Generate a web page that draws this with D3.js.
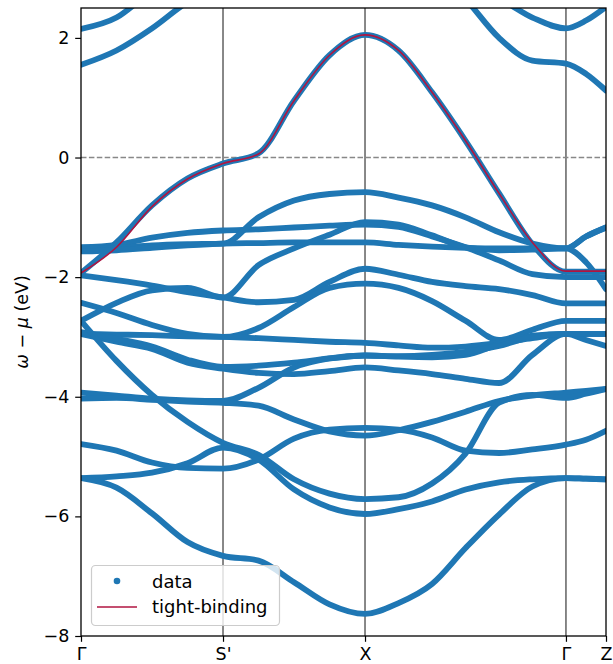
<!DOCTYPE html>
<html><head><meta charset="utf-8">
<script src="https://cdn.jsdelivr.net/npm/d3@7"></script>
<style>body{margin:0;background:#fff} text{font-family:"DejaVu Sans",sans-serif}</style>
</head><body><svg id="c" width="613" height="664"></svg>
<script>
// high-symmetry path
const kTicks = [0, 1, 2, 3.415, 3.697];
const kLabels = ["Γ", "S'", "X", "Γ", "Z"];
const kLines = [1, 2, 3.415];
// k sample positions of the read-off values
const kGrid = [0, 0.25, 0.5, 0.75, 1, 1.25, 1.5, 1.75, 2, 2.236, 2.472, 2.708, 2.944, 3.179, 3.415, 3.556, 3.697];
const eTicks = [2, 0, -2, -4, -6, -8];

// band energies (eV) read at kGrid
const band01 = [2.15, 2.34, 2.8, 3.2, 3.4, 3.5, 3.6, 3.6, 3.5, 3.3, 3.05, 2.8, 2.65, 2.34, 2.16, 2.29, 2.52];
const band02 = [1.55, 1.79, 2.16, 2.6, 2.9, 3.1, 3.2, 3.4, 3.6, 3.45, 3.2, 2.65, 2.0, 1.62, 1.57, 1.40, 1.12];
const band03 = [-1.93, -1.42, -0.80, -0.35, -0.10, 0.07, 0.95, 1.71, 2.05, 1.79, 1.09, 0.28, -0.6, -1.45, -1.91, -1.91, -1.91];
const band04 = [-1.5, -1.46, -1.34, -1.26, -1.22, -1.2, -1.17, -1.14, -1.12, -1.16, -1.32, -1.5, -1.72, -1.95, -2.0, -2.0, -2.0];
const band05 = [-1.53, -1.51, -1.47, -1.45, -1.44, -1.0, -0.72, -0.61, -0.58, -0.67, -0.8, -1.0, -1.25, -1.44, -1.52, -1.32, -1.17];
const band06 = [-1.57, -1.55, -1.51, -1.47, -1.44, -1.43, -1.42, -1.42, -1.42, -1.46, -1.49, -1.51, -1.52, -1.52, -1.52, -1.32, -1.17];
const band07 = [-2.73, -2.43, -2.22, -2.18, -2.34, -1.8, -1.52, -1.29, -1.08, -1.12, -1.3, -1.5, -1.55, -1.54, -1.52, -1.75, -2.2];
const band08 = [-1.97, -2.05, -2.14, -2.25, -2.34, -2.42, -2.38, -2.08, -1.86, -1.96, -2.08, -2.15, -2.2, -2.3, -2.44, -2.44, -2.44];
const band09 = [-2.43, -2.6, -2.8, -2.95, -3.0, -2.85, -2.5, -2.18, -2.11, -2.18, -2.4, -2.73, -3.05, -2.88, -2.73, -2.73, -2.73];
const band10 = [-2.95, -2.96, -2.97, -2.99, -3.0, -3.02, -3.05, -3.08, -3.1, -3.14, -3.18, -3.16, -3.1, -3.02, -2.95, -2.95, -2.95];
const band11 = [-2.95, -3.08, -3.2, -3.43, -3.53, -3.6, -3.62, -3.57, -3.51, -3.56, -3.62, -3.7, -3.77, -3.3, -2.95, -3.05, -3.15];
const band12 = [-2.92, -3.03, -3.16, -3.38, -3.5, -3.48, -3.43, -3.36, -3.31, -3.33, -3.34, -3.3, -3.12, -2.98, -2.95, -2.95, -2.95];
const band13 = [-3.93, -3.98, -4.03, -4.06, -4.07, -3.85, -3.51, -3.36, -3.31, -3.32, -3.3, -3.25, -3.15, -3.0, -2.95, -2.95, -2.95];
const band14 = [-4.03, -4.02, -4.05, -4.08, -4.1, -4.15, -4.38, -4.58, -4.65, -4.56, -4.42, -4.25, -4.07, -3.98, -3.93, -3.9, -3.87];
const band15 = [-4.79, -4.9, -5.1, -5.19, -5.2, -5.05, -4.7, -4.55, -4.52, -4.55, -4.68, -4.9, -4.94, -4.88, -4.8, -4.72, -4.57];
const band16 = [-2.73, -3.4, -3.97, -4.42, -4.77, -4.97, -5.38, -5.62, -5.71, -5.68, -5.45, -4.95, -4.1, -3.97, -4.02, -3.95, -3.87];
const band17 = [-5.36, -5.33, -5.27, -5.11, -4.85, -5.05, -5.55, -5.85, -5.96, -5.88, -5.75, -5.55, -5.43, -5.38, -5.36, -5.37, -5.38];
const band18 = [-5.36, -5.52, -5.95, -6.43, -6.66, -6.74, -7.1, -7.47, -7.63, -7.45, -7.13, -6.53, -5.97, -5.5, -5.36, -5.37, -5.38];
const bands = [band01, band02, band03, band04, band05, band06, band07, band08, band09,
               band10, band11, band12, band13, band14, band15, band16, band17, band18];

// tight-binding fit of the top valence band
const tightBinding = [-1.93, -1.5, -0.82, -0.36, -0.10, 0.06, 0.95, 1.71, 2.05, 1.79, 1.09, 0.28, -0.6, -1.42, -1.90, -1.90, -1.90];

const svg = d3.select("#c");
const L = 81, R = 606, T = 8, B = 636;
const x = d3.scaleLinear().domain([0, 3.697]).range([L, R]);
const y = d3.scaleLinear().domain([-8, 2.5]).range([B, T]);
const blue = "#1f77b4", red = "#b01540";
const fs = 17.5;

svg.append("defs").append("clipPath").attr("id", "clip")
  .append("rect").attr("x", L).attr("y", T).attr("width", R - L).attr("height", B - T);

const plot = svg.append("g").attr("clip-path", "url(#clip)");

// vertical high-symmetry lines
plot.selectAll("line.v").data(kLines).join("line")
  .attr("x1", d => x(d)).attr("x2", d => x(d)).attr("y1", T).attr("y2", B)
  .attr("stroke", "#555").attr("stroke-width", 1.4);
// Fermi level
plot.append("line").attr("x1", L).attr("x2", R).attr("y1", y(0)).attr("y2", y(0))
  .attr("stroke", "#888").attr("stroke-width", 1.3).attr("stroke-dasharray", "5.5,2.4");

const line = d3.line().x((d, i) => x(kGrid[i])).y(d => y(d)).curve(d3.curveMonotoneX);
plot.selectAll("path.band").data(bands).join("path")
  .attr("class", "band").attr("d", line)
  .attr("fill", "none").attr("stroke", blue).attr("stroke-width", 5.8)
  .attr("stroke-linecap", "round").attr("stroke-linejoin", "round");
plot.append("path").attr("d", line(tightBinding))
  .attr("fill", "none").attr("stroke", red).attr("stroke-width", 1.6);

// frame
svg.append("rect").attr("x", L).attr("y", T).attr("width", R - L).attr("height", B - T)
  .attr("fill", "none").attr("stroke", "#000").attr("stroke-width", 1.3);

// axes
const yAxis = d3.axisLeft(y).tickValues(eTicks).tickSize(5.8).tickPadding(5.8)
  .tickFormat(d => d < 0 ? "\u2212" + Math.abs(d) : String(d));
const gy = svg.append("g").attr("transform", `translate(${L},0)`).call(yAxis);
const xAxis = d3.axisBottom(x).tickValues(kTicks).tickSize(5.8).tickPadding(5.3)
  .tickFormat((d, i) => kLabels[i]);
const gx = svg.append("g").attr("transform", `translate(0,${B})`).call(xAxis);
[gx, gy].forEach(g => {
  g.select(".domain").remove();
  g.selectAll(".tick line").attr("stroke", "#000").attr("stroke-width", 1.2);
  g.selectAll(".tick text").attr("font-size", fs).attr("fill", "#000")
   .attr("font-family", "DejaVu Sans");
});

// y label
const yl = svg.append("text").attr("transform", "translate(28,322) rotate(-90)")
  .attr("text-anchor", "middle").attr("font-size", fs).attr("fill", "#000");
yl.append("tspan").attr("font-style", "italic").text("ω");
yl.append("tspan").text(" \u2212 ");
yl.append("tspan").attr("font-style", "italic").text("μ");
yl.append("tspan").text(" (eV)");

// legend
const lg = svg.append("g");
lg.append("rect").attr("x", 91.5).attr("y", 565.5).attr("width", 188).attr("height", 60).attr("rx", 4)
  .attr("fill", "#fff").attr("fill-opacity", 0.8).attr("stroke", "#ccc").attr("stroke-width", 1.2);
lg.append("circle").attr("cx", 117).attr("cy", 581).attr("r", 3.3).attr("fill", blue);
lg.append("line").attr("x1", 97).attr("x2", 137).attr("y1", 607).attr("y2", 607)
  .attr("stroke", red).attr("stroke-width", 1.6);
lg.append("text").attr("x", 152).attr("y", 588).attr("font-size", 18).text("data");
lg.append("text").attr("x", 152).attr("y", 613).attr("font-size", 18).text("tight-binding");
</script></body></html>
